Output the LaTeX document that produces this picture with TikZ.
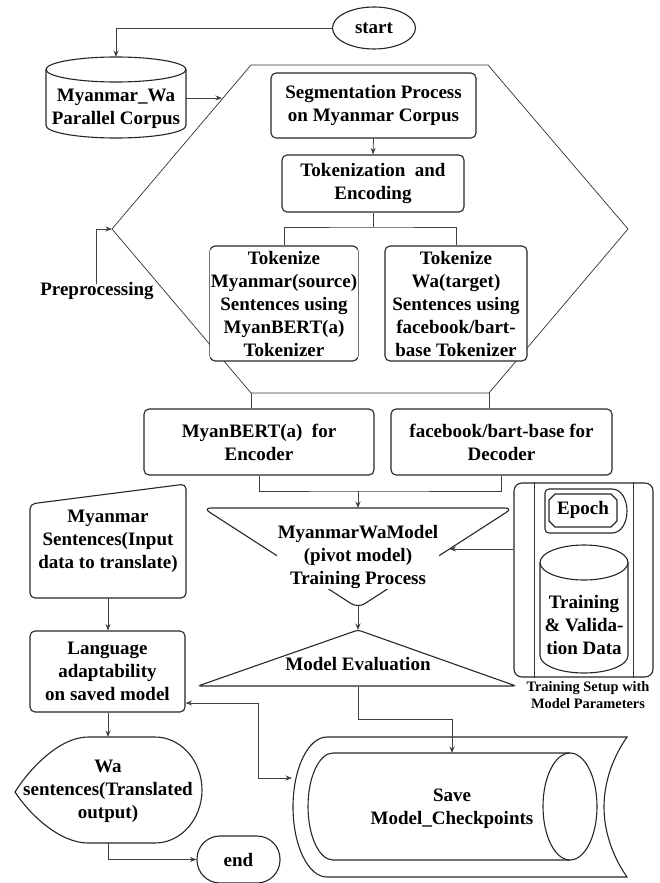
\documentclass[tikz,border=0pt]{standalone}
\usepackage{fontspec}
\setmainfont{Liberation Serif}
\usetikzlibrary{arrows.meta,shapes.geometric,calc}

\begin{document}
\begin{tikzpicture}[x=1pt,y=-1pt,
  every node/.style={font=\bfseries\fontsize{19}{23}\selectfont, align=center, inner sep=0pt},
  frame/.style={line width=1.1pt, draw=black!85},
  thinframe/.style={line width=0.8pt, draw=black!80},
  roundbox/.style={frame, rounded corners=5pt, fill=white},
  lbl/.style={fill=white, inner sep=0.8pt},
  conn/.style={line width=0.8pt, draw=black!75},
  tip/.tip={Stealth[length=6.5pt,width=5pt]},
  arr/.style={conn, -tip},
  small/.style={font=\bfseries\fontsize{14.4}{17}\selectfont}
]
\useasboundingbox (0,0) rectangle (660,883);

% ---------- preprocessing hexagon ----------
\coordinate (hTL) at (251,65);
\coordinate (hTR) at (488,65);
\coordinate (hR)  at (628,229);
\coordinate (hBR) at (489,393);
\coordinate (hBL) at (251,393);
\coordinate (hL)  at (112,229);
\draw[line width=0.7pt, draw=black!80] (hTL) -- (hTR) -- (hR) -- (hBR) -- (hBL) -- (hL) -- cycle;

% ---------- start and corpus ----------
\node[frame, ellipse, minimum width=83pt, minimum height=42pt] (start) at (374,28) {start};

\draw[frame] (46,69.5) -- (46,125.5) .. controls (46,132.4) and (77.3,138) .. (116,138)
  .. controls (154.7,138) and (186,132.4) .. (186,125.5) -- (186,69.5);
\draw[frame] (116,69.5) ellipse [x radius=70pt, y radius=12.5pt];
\node (corpus) at (116,109) {Myanmar\_Wa\\Parallel Corpus};
\coordinate (corpusTop) at (116,57);
\coordinate (corpusR) at (186,98);
\coordinate (hexIn) at (222,98);

\draw[arr] (start.west) -| (corpusTop);
\draw[arr] (corpusR) -- (hexIn);

\node (pre) at (97,291) {Preprocessing};
\draw[arr] ([xshift=-1pt,yshift=-2pt]pre.north) |- (hL);

% ---------- preprocessing steps ----------
\node[roundbox, minimum width=205pt, minimum height=65pt] (seg) at (373.5,105.5) {Segmentation Process\\on Myanmar Corpus};
\node[roundbox, minimum width=182pt, minimum height=57pt] (tok) at (373,183.5) {Tokenization\ \ and\\Encoding};
\draw[arr] (seg.south) -- (tok.north);

\node[roundbox, minimum width=148pt, minimum height=115pt] (tokL) at (284,303.5) {};
\node[roundbox, minimum width=142pt, minimum height=115pt] (tokR) at (456,303.5) {};
\node[lbl] (tokLT) at (284,303.5) {Tokenize\\Myanmar(source)\\Sentences using\\MyanBERT(a)\\Tokenizer};
\node[lbl] (tokRT) at (456,303.5) {Tokenize\\Wa(target)\\Sentences using\\facebook/bart-\\base Tokenizer};
\coordinate (br) at (373,227);
\draw[conn] (tok.south) -- (br);
\draw[conn] (tokL.north) |- (br) -| (tokR.north);

% ---------- encoder / decoder ----------
\node[roundbox, minimum width=230pt, minimum height=66pt] (enc) at (259,442) {MyanBERT(a)\ \ for\\Encoder};
\node[roundbox, minimum width=221pt, minimum height=66pt] (dec) at (501.5,442) {facebook/bart-base for\\Decoder};
\draw[conn] (hBL) -- (hBL |- enc.north);
\draw[conn] (hBR) -- (hBR |- dec.north);

\coordinate (mg) at (358,491);
\coordinate (trainTop) at (358,508);
\coordinate (trainBot) at (358,605);
\coordinate (trainR) at (449.5,549);
\draw[conn] (enc.south) |- (mg) -| (dec.south);
\draw[arr] (mg) -- (trainTop);

% ---------- training process ----------
\draw[frame, rounded corners=8pt] (203,508) -- (513,508) -- (358,608) -- cycle;
\node[lbl] (train) at (358,557) {MyanmarWaModel\\(pivot model)\\Training Process};

% ---------- model evaluation ----------
\coordinate (evalTop) at (358,630);
\coordinate (evalBot) at (358,687);
\draw[frame, rounded corners=3pt] (358,630) -- (516,686) -- (198,686) -- cycle;
\node[lbl, inner sep=0pt] (eval) at (358,664) {Model Evaluation};
\draw[arr] (trainBot) -- (evalTop);

% ---------- training setup ----------
\node[roundbox, rounded corners=8pt, minimum width=139pt, minimum height=194pt] (setup) at (583.5,580) {};
\draw[thinframe] (setup.north -| 534,0) -- (setup.south -| 534,0);
\draw[thinframe] (setup.north -| 633,0) -- (setup.south -| 633,0);
\draw[frame, rounded corners=4pt] (612,489) -- (545,489) -- (545,533) -- (612,533);
\draw[frame] (612,489) .. controls (621,489) and (627,499) .. (627,511) .. controls (627,523) and (621,533) .. (612,533);
\draw[frame] (555,494) -- (611,494) -- (617,500) -- (617,521) -- (611,527) -- (555,527) -- (549,521) -- (549,500) -- cycle;
\node (epoch) at (583,510) {Epoch};

\draw[frame] (540,562.5) -- (540,655.5) .. controls (540,665.2) and (559.7,673) .. (584,673)
  .. controls (608.3,673) and (628,665.2) .. (628,655.5) -- (628,562.5);
\draw[frame] (584,562.5) ellipse [x radius=44pt, y radius=17.5pt];
\node (data) at (584,625) {Training\\\& Valida-\\tion Data};
\node[small] (cap) at (588,695) {Training Setup with\\Model Parameters};

\coordinate (setupL) at (setup.west |- trainR);
\draw[arr] (setupL) -- (trainR);

% ---------- save checkpoints ----------
\draw[frame] (327,737) -- (627,737) .. controls (611,760) and (604,785) .. (604,807)
  .. controls (604,829) and (611,854) .. (627,877) -- (327,877)
  .. controls (308.2,877) and (293,845.7) .. (293,807) .. controls (293,768.3) and (308.2,737) .. (327,737);
\draw[frame] (570,753) -- (333,753) .. controls (319.2,753) and (308,777) .. (308,806.5)
  .. controls (308,836) and (319.2,860) .. (333,860) -- (570,860);
\draw[frame] (570,806.5) ellipse [x radius=27pt, y radius=53.5pt];
\node (save) at (452,809) {Save\\Model\_Checkpoints};
\coordinate (saveTop) at (452,753);
\coordinate (saveL) at (292,778);
\coordinate (evJoint) at (358,719);
\draw[conn] (evalBot) -- (evJoint);
\draw[arr] (evJoint) -| (saveTop);

% ---------- translation column ----------
\draw[frame, rounded corners=5pt] (30,504) -- (186,484) -- (186,598) -- (30,598) -- cycle;
\node (inp) at (108,541) {Myanmar\\Sentences(Input\\data to translate)};
\coordinate (inpB) at (108,598);

\node[roundbox, minimum width=155pt, minimum height=81pt] (lang) at (107.5,671.5) {Language\\adaptability\\on saved model};
\draw[arr] (inpB) -- (inpB |- lang.north);

\draw[frame] (88,737) -- (155,737) .. controls (181,737) and (202,761) .. (202,790)
  .. controls (202,819) and (181,843) .. (155,843) -- (88,843)
  .. controls (60,843) and (30,815) .. (15,792) .. controls (30,768) and (60,737) .. (88,737);
\node (wa) at (108,791) {Wa\\sentences(Translated\\output)};
\coordinate (waTop) at (108,737);
\coordinate (waBot) at (108,843);
\draw[arr] (lang.south -| waTop) -- (waTop);

\node[frame, rectangle, rounded corners=23pt, minimum width=83pt, minimum height=47pt] (end) at (238.5,859.5) {end};
\draw[arr] (waBot) |- (end.west);

\coordinate (langR) at (lang.east |- 0,703);
\coordinate (lk) at (258,778);
\draw[conn, tip-tip] (langR) -| (lk) -- (saveL);
\end{tikzpicture}
\end{document}
